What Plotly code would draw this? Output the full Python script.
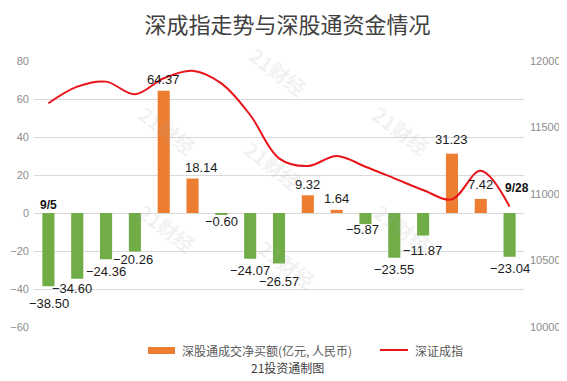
import plotly.graph_objects as go

# ---- data ----
dates = ["9/5", "9/6", "9/7", "9/8", "9/11", "9/12", "9/13", "9/14", "9/15",
         "9/18", "9/19", "9/20", "9/21", "9/22", "9/25", "9/26", "9/28"]
net_buy = [-38.50, -34.60, -24.36, -20.26, 64.37, 18.14, -0.60, -24.07, -26.57,
           9.32, 1.64, -5.87, -23.55, -11.87, 31.23, 7.42, -23.04]
szci = [11682, 11807, 11845, 11750, 11870, 11927, 11832, 11594, 11268,
        11210, 11286, 11205, 11118, 11030, 10960, 11175, 10905]
left_ticks = [-60, -40, -20, 0, 20, 40, 60, 80]
right_ticks = [10000, 10500, 11000, 11500, 12000]
right_tick_labels = ["10000", "10500", "11000", "11500", "12000"]

ORANGE = "#ED7D31"
GREEN = "#70AD47"
RED = "#E8141A"
CJK = "Noto Sans CJK SC"
LAT = "Liberation Sans, Arial, sans-serif"

# page body has an 8px margin: figure is drawn 8px right/down
OFF = 8
W, H = 567 - OFF, 381 - OFF
PL, PR, PT, PB = 34, 524, 61, 327   # plot area in reference pixels
PW, PH = PR - PL, PB - PT

def px(x):
    return (x - PL) / PW

def py(y):
    return (PB - y) / PH

def fmt(v):
    s = f"{abs(v):.2f}"
    return ("\u2212" + s) if v < 0 else s

fig = go.Figure()
fig.add_trace(go.Bar(
    x=dates, y=net_buy,
    marker=dict(color=[ORANGE if v >= 0 else GREEN for v in net_buy], line_width=0),
    name="深股通成交净买额(亿元, 人民币)", showlegend=False, hoverinfo="skip",
))
fig.add_trace(go.Scatter(
    x=dates, y=szci, yaxis="y2", mode="lines",
    line=dict(color=RED, width=2, shape="spline", smoothing=1.0),
    name="深证成指", showlegend=False, hoverinfo="skip",
))

# label nudges as in the reference (index: (xshift, yshift))
nudge = {0: (1, -17), 1: (-5, -10), 3: (-2, -8), 5: (9, 11), 6: (0, -7),
         8: (0, -18), 11: (-3, -5), 13: (-1, -15), 14: (0, 14), 15: (0, 14)}

ann = []
for i, (d, v) in enumerate(zip(dates, net_buy)):
    xs, ys = nudge.get(i, (0, 11 if v >= 0 else -12))
    ann.append(dict(x=d, y=v, xref="x", yref="y", text=fmt(v), showarrow=False,
                    xshift=xs, yshift=ys, yanchor="middle",
                    font=dict(family=LAT, size=13, color="#1a1a1a")))
# first / last date markers
ann.append(dict(x=dates[0], y=0, xref="x", yref="y", text="<b>9/5</b>", showarrow=False,
                yshift=8, font=dict(family="Liberation Sans", size=12, color="#111")))
ann.append(dict(x=dates[-1], y=szci[-1], xref="x", yref="y2", text="<b>9/28</b>", showarrow=False,
                xshift=7, yshift=19, font=dict(family="Liberation Sans", size=12, color="#111")))

# watermarks
for (wx, wy) in [(130, 97), (438, 97), (273, 165), (130, 228), (440, 228), (287, 298), (278, 38)]:
    ann.append(dict(x=px(wx), y=py(wy), xref="paper", yref="paper",
                    text="<b>21财经</b>", showarrow=False, textangle=37,
                    font=dict(family=CJK, size=20, color="rgba(170,170,170,0.16)")))

# legend (custom)
ann.append(dict(x=px(180), y=py(350), xref="paper", yref="paper",
                xanchor="left", yanchor="middle", showarrow=False,
                text="深股通成交净买额(亿元, 人民币)",
                font=dict(family=CJK, size=12, color="#595959")))
ann.append(dict(x=px(413), y=py(350), xref="paper", yref="paper",
                xanchor="left", yanchor="middle", showarrow=False, text="深证成指",
                font=dict(family=CJK, size=12, color="#595959")))
ann.append(dict(x=px(287), y=py(367), xref="paper", yref="paper",
                xanchor="center", yanchor="middle", showarrow=False, text="21投资通制图",
                font=dict(family=CJK, size=12, color="#404040")))

shapes = [
    dict(type="rect", xref="paper", yref="paper",
         x0=px(148), x1=px(175), y0=py(354), y1=py(347),
         fillcolor=ORANGE, line_width=0),
    dict(type="line", xref="paper", yref="paper",
         x0=px(380), x1=px(408), y0=py(350), y1=py(350),
         line=dict(color=RED, width=2)),
]

fig.update_layout(
    width=W, height=H,
    margin=dict(l=PL - OFF, r=W - (PR - OFF), t=PT - OFF, b=H - (PB - OFF), autoexpand=False),
    paper_bgcolor="white", plot_bgcolor="white",
    title=dict(text="深成指走势与深股通资金情况", x=0.5, xanchor="center",
               y=1 - (25 - OFF) / H, yanchor="middle",
               font=dict(family=CJK, size=22, color="#404040")),
    bargap=0.58,
    xaxis=dict(showticklabels=False, showgrid=False, zeroline=False, showline=False,
               ticks="", range=[-0.5, len(dates) - 0.5], automargin=False),
    yaxis=dict(range=[-60, 80], tickvals=left_ticks, showgrid=True, gridcolor="#d9d9d9",
               gridwidth=1, zeroline=False, showline=False, ticks="", automargin=False,
               tickfont=dict(family=LAT, size=11, color="#8c8c8c"), ticklabelstandoff=4),
    yaxis2=dict(range=[10000, 12000], tickvals=right_ticks, ticktext=right_tick_labels,
                overlaying="y", side="right", automargin=False,
                showgrid=False, zeroline=False, showline=False, ticks="",
                tickfont=dict(family=LAT, size=11, color="#8c8c8c"), ticklabelstandoff=5),
    annotations=ann, shapes=shapes, showlegend=False,
)

fig.write_html("out.html")
